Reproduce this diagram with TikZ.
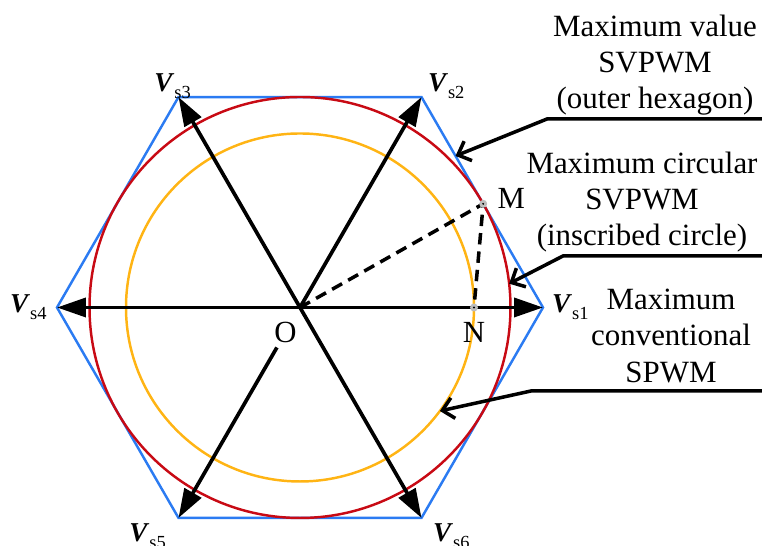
\documentclass[tikz,border=0pt]{standalone}
\usepackage{fontspec}
\setmainfont{Liberation Serif}
\usepackage{tikz}
\usetikzlibrary{arrows.meta,positioning,calc}
\definecolor{hexblue}{HTML}{2B7BF2}
\definecolor{svred}{HTML}{C80A14}
\definecolor{spwmorange}{HTML}{FFB414}
\definecolor{markgrey}{HTML}{BDBDBD}
\newcommand{\vlabel}[1]{\textbf{\textit{V}}\raisebox{-4pt}{\fontsize{10.5}{12}\selectfont s#1}}
\tikzset{
  hexline/.style={draw=hexblue, line width=1.4pt, line join=miter},
  maxcircle/.style={draw=svred, line width=1.4pt},
  spwmcircle/.style={draw=spwmorange, line width=1.4pt},
  vecarrow/.style={-{Triangle[length=0.58cm, width=0.38cm]}, line width=2.1pt},
  notearrow/.style={-{Straight Barb[length=0.22cm, width=0.42cm]}, line width=2pt},
  dashline/.style={line width=2pt, dash pattern=on 6.5pt off 4pt},
  veclabel/.style={inner sep=1pt, font=\fontsize{15.5}{18}\selectfont},
  ptlabel/.style={inner sep=1pt, font=\fontsize{17.5}{20}\selectfont},
  notetext/.style={align=center, inner sep=0pt, font=\fontsize{17.6}{20.6}\selectfont},
  pointmark/.style={circle, fill=markgrey, inner sep=0pt, minimum size=0.16cm,
    path picture={\fill[black] (path picture bounding box.center) circle (0.6pt);}},
}

\begin{document}
\begin{tikzpicture}[x=0.02cm, y=0.02cm]
  \useasboundingbox (0,0) rectangle (762,546);
  \coordinate (O) at (300,238.5);
  \foreach \k/\ang in {1/0,2/60,3/120,4/180,5/240,6/300}
    \coordinate (V\k) at ($(O)+(\ang:243)$);
  \coordinate (Mpt) at ($(O)+(29.5:210.5)$);
  \coordinate (Npt) at ($(O)+(0:174)$);

  \draw[hexline] (V1) -- (V2) -- (V3) -- (V4) -- (V5) -- (V6) -- cycle;
  \draw[maxcircle] (O) circle (210.5);
  \draw[spwmcircle] (O) circle (174);

  \foreach \k in {1,2,3,4,6}
    \draw[vecarrow] (O) -- (V\k);
  \coordinate (V5start) at ($(O)!0.19!(V5)$);
  \draw[vecarrow] (V5start) -- (V5);

  \draw[dashline] (O) -- (Mpt) -- (Npt);
  \node[pointmark] at (Mpt) {};
  \node[pointmark] at (Npt) {};

  \node[ptlabel, below left=7pt and 0.7pt of O] (Olabel) {O};
  \node[ptlabel, right=7pt of Mpt, yshift=2.8pt] (Mlabel) {M};
  \node[ptlabel, below=7.5pt of Npt] (Nlabel) {N};

  \node[veclabel, right=4pt of V1] (L1) {\vlabel{1}};
  \node[veclabel, above right=-2pt and 2.5pt of V2] (L2) {\vlabel{2}};
  \node[veclabel, above=-2pt of V3, xshift=-3.4pt] (L3) {\vlabel{3}};
  \node[veclabel, left=4.7pt of V4] (L4) {\vlabel{4}};
  \node[veclabel, below=2pt of V5, xshift=-17.6pt] (L5) {\vlabel{5}};
  \node[veclabel, below=2pt of V6, xshift=17pt] (L6) {\vlabel{6}};

  \node[notetext] (notehex) at (655,481) {Maximum value\\SVPWM\\(outer hexagon)};
  \node[notetext] (notecirc) at (642,344) {Maximum circular\\SVPWM\\(inscribed circle)};
  \node[notetext] (notespwm) at (671,210) {Maximum\\conventional\\SPWM};

  \coordinate (hexend) at (762,427);
  \coordinate (hexknee) at (547,427);
  \coordinate (hextip) at ($(V2)!0.28!(V1)$);
  \draw[notearrow] (hexend) -- (hexknee) -- (hextip);
  \coordinate (circend) at (762,290);
  \coordinate (circknee) at (563,290);
  \coordinate (circtip) at ($(O)+(6.5:210.5)$);
  \draw[notearrow] (circend) -- (circknee) -- (circtip);
  \coordinate (spwmend) at (762,155);
  \coordinate (spwmknee) at (531,155);
  \coordinate (spwmtip) at ($(O)+(-36.5:174)$);
  \draw[notearrow] (spwmend) -- (spwmknee) -- (spwmtip);
\end{tikzpicture}
\end{document}
